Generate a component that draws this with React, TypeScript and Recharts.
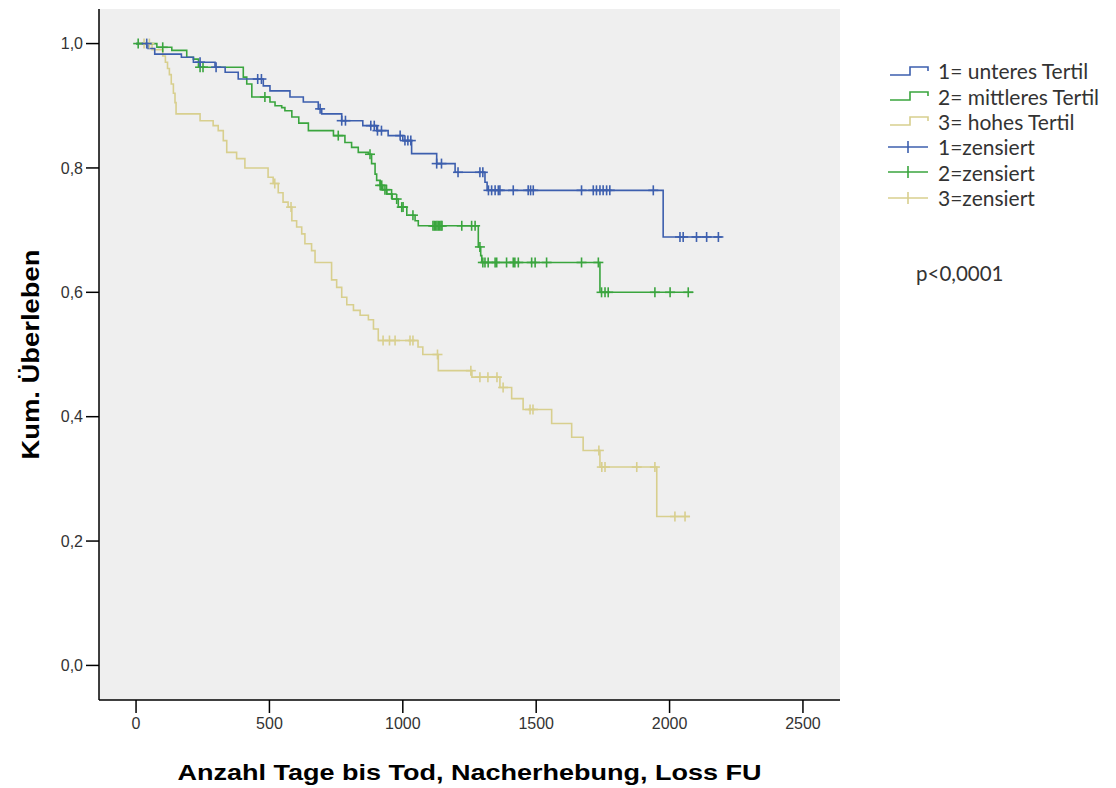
import React from 'react';
import { ComposedChart, Line, Scatter, XAxis, YAxis, CartesianGrid, Label } from 'recharts';

// ---- axes ----
const xTicks = [0, 500, 1000, 1500, 2000, 2500];
const yTicks = [0, 0.2, 0.4, 0.6, 0.8, 1.0];

// ---- 1 = unteres Tertil ----
const days1 = [0, 45, 70, 170, 215, 296, 334, 383, 477, 502, 577, 627, 683, 696, 771, 850, 902, 945, 1000, 1033, 1127, 1196, 1308, 1316, 1976, 2196];
const surv1 = [1.0, 0.992, 0.983, 0.978, 0.970, 0.962, 0.954, 0.943, 0.932, 0.924, 0.914, 0.906, 0.895, 0.887, 0.876, 0.868, 0.860, 0.852, 0.844, 0.823, 0.807, 0.793, 0.777, 0.764, 0.689, 0.689];
const censor1 = [40, 240, 300, 456, 470, 690, 771, 785, 880, 893, 905, 920, 990, 1008, 1019, 1030, 1127, 1145, 1207, 1289, 1300, 1321, 1333, 1346, 1358, 1364, 1414, 1470, 1479, 1489, 1670, 1714, 1726, 1739, 1751, 1764, 1776, 1939, 2039, 2051, 2101, 2139, 2183];

// ---- 2 = mittleres Tertil ----
const days2 = [0, 78, 134, 190, 215, 234, 402, 415, 434, 502, 521, 546, 558, 584, 610, 646, 740, 783, 808, 833, 871, 883, 896, 902, 915, 925, 940, 960, 983, 1015, 1046, 1058, 1283, 1292, 1296, 1739, 2089];
const surv2 = [1.0, 0.994, 0.989, 0.978, 0.975, 0.962, 0.946, 0.935, 0.914, 0.906, 0.900, 0.897, 0.892, 0.882, 0.872, 0.860, 0.852, 0.841, 0.833, 0.825, 0.822, 0.807, 0.790, 0.780, 0.772, 0.765, 0.758, 0.750, 0.737, 0.724, 0.715, 0.707, 0.673, 0.659, 0.648, 0.600, 0.600];
const censor2 = [8, 100, 240, 251, 483, 758, 877, 915, 921, 933, 939, 958, 977, 996, 1001, 1038, 1113, 1118, 1123, 1128, 1133, 1138, 1143, 1147, 1221, 1258, 1271, 1289, 1300, 1308, 1320, 1346, 1352, 1389, 1414, 1420, 1433, 1483, 1496, 1539, 1670, 1733, 1745, 1758, 1770, 1945, 2002, 2070];

// ---- 3 = hohes Tertil ----
const days3 = [0, 60, 100, 110, 118, 125, 132, 140, 146, 150, 240, 289, 308, 327, 340, 377, 408, 495, 514, 533, 551, 570, 584, 602, 621, 633, 658, 671, 733, 752, 771, 790, 815, 840, 871, 890, 908, 1057, 1075, 1133, 1259, 1364, 1408, 1451, 1558, 1633, 1676, 1739, 1952, 2076];
const surv3 = [1.0, 0.99, 0.98, 0.97, 0.96, 0.95, 0.935, 0.92, 0.905, 0.887, 0.876, 0.868, 0.86, 0.844, 0.825, 0.815, 0.80, 0.785, 0.775, 0.76, 0.745, 0.737, 0.715, 0.705, 0.694, 0.678, 0.667, 0.648, 0.62, 0.608, 0.592, 0.58, 0.571, 0.563, 0.556, 0.541, 0.5225, 0.512, 0.50, 0.474, 0.4636, 0.447, 0.429, 0.4116, 0.389, 0.367, 0.3457, 0.319, 0.2395, 0.2395];
const censor3 = [30, 50, 520, 581, 926, 950, 971, 1027, 1038, 1130, 1255, 1289, 1319, 1353, 1376, 1477, 1488, 1735, 1746, 1758, 1877, 1945, 2020, 2058];

const legendLabels = ['1= unteres Tertil', '2= mittleres Tertil', '3= hohes Tertil', '1=zensiert', '2=zensiert', '3=zensiert'];
const pValueText = 'p<0,0001';

const C1 = '#3d5fae';
const C2 = '#3aa53e';
const C3 = '#d8cf8e';

const curve = (days: number[], surv: number[]) => days.map((d, i) => ({ x: d, y: surv[i] }));
const survAt = (days: number[], surv: number[], t: number) => {
  let s = surv[0];
  for (let i = 0; i < days.length; i++) if (days[i] <= t) s = surv[i];
  return s;
};
const marks = (days: number[], surv: number[], cens: number[]) => cens.map((t) => ({ x: t, y: survAt(days, surv, t) }));

const line1 = curve(days1, surv1);
const line2 = curve(days2, surv2);
const line3 = curve(days3, surv3);
const cens1 = marks(days1, surv1, censor1);
const cens2 = marks(days2, surv2, censor2);
const cens3 = marks(days3, surv3, censor3);

const makeCross = (color: string) => (props: any) => {
  const { cx, cy } = props;
  if (cx == null || cy == null) return <g />;
  return (
    <g>
      <line x1={cx - 5} x2={cx + 5} y1={cy} y2={cy} stroke={color} strokeWidth={1.6} />
      <line x1={cx} x2={cx} y1={cy - 5} y2={cy + 5} stroke={color} strokeWidth={1.6} />
    </g>
  );
};

const xDomain = [-138.9, 2638.9];
const yDomain = [-0.0556, 1.0556];

const tickStyle = { fontFamily: 'Liberation Sans, Arial, sans-serif', fontSize: 16, fill: '#333' };

const LegendBox = () => {
  const colors = [C1, C2, C3, C1, C2, C3];
  return (
    <div style={{ position: 'absolute', left: 872, top: 50, fontFamily: 'Lato, sans-serif', fontSize: 21, color: '#333' }}>
      {legendLabels.map((lab, i) => (
        <div key={i} style={{ display: 'flex', alignItems: 'center', height: 25.4 }}>
          <svg width={50} height={20} style={{ flex: 'none' }}>
            {i < 3 ? (
              <polyline points="10,14 30,14 30,6 48,6 48,10" fill="none" stroke={colors[i]} strokeWidth={1.6} />
            ) : (
              <g>
                <line x1={8} x2={48} y1={10} y2={10} stroke={colors[i]} strokeWidth={1.6} />
                <line x1={28} x2={28} y1={4} y2={16} stroke={colors[i]} strokeWidth={1.6} />
              </g>
            )}
          </svg>
          <span style={{ marginLeft: 8, whiteSpace: 'nowrap' }}>{lab}</span>
        </div>
      ))}
    </div>
  );
};

export default function App() {
  return (
    <div style={{ position: 'relative', width: 1100, height: 780 }}>
      <ComposedChart width={1100} height={780} margin={{ top: 1, right: 268, bottom: 0, left: 0 }}>
        <CartesianGrid fill="#efefef" horizontal={false} vertical={false} />
        <XAxis
          dataKey="x"
          type="number"
          domain={xDomain}
          ticks={xTicks}
          allowDataOverflow
          height={88}
          tickSize={13}
          tickMargin={5}
          tick={tickStyle}
          tickLine={{ stroke: '#000', strokeWidth: 1.5 }}
          axisLine={{ stroke: '#000', strokeWidth: 1.5 }}
        >
          <Label
            content={(p: any) => {
              const vb = p.viewBox;
              return (
                <text x={vb.x + vb.width / 2} y={vb.y + 80} textAnchor="middle" fontFamily="Liberation Sans, Arial, sans-serif" fontWeight="bold" fontSize={22} fill="#000" textLength={584} lengthAdjust="spacingAndGlyphs">
                  Anzahl Tage bis Tod, Nacherhebung, Loss FU
                </text>
              );
            }}
          />
        </XAxis>
        <XAxis xAxisId="top" orientation="top" type="number" domain={xDomain} height={0} tick={false} tickLine={false} axisLine={{ stroke: '#000', strokeWidth: 1.5 }} />
        <YAxis
          type="number"
          domain={yDomain}
          ticks={yTicks}
          allowDataOverflow
          width={91}
          tickSize={13}
          tickMargin={3}
          tick={tickStyle}
          tickFormatter={(v: number) => v.toFixed(1).replace('.', ',')}
          tickLine={{ stroke: '#000', strokeWidth: 1.5 }}
          axisLine={{ stroke: '#000', strokeWidth: 1.5 }}
        >
          <Label
            content={(p: any) => {
              const vb = p.viewBox;
              const cx = 31;
              const cy = vb.y + vb.height / 2;
              return (
                <text x={cx} y={cy} transform={`rotate(-90 ${cx} ${cy})`} textAnchor="middle" fontFamily="Liberation Sans, Arial, sans-serif" fontWeight="bold" fontSize={23} fill="#000" textLength={210} lengthAdjust="spacingAndGlyphs">
                  Kum. Überleben
                </text>
              );
            }}
          />
        </YAxis>
        <YAxis yAxisId="right" orientation="right" type="number" domain={yDomain} width={0} tick={false} tickLine={false} axisLine={{ stroke: '#000', strokeWidth: 1.5 }} />
        <Line data={line3} dataKey="y" type="stepAfter" stroke={C3} strokeWidth={1.6} dot={false} isAnimationActive={false} />
        <Line data={line2} dataKey="y" type="stepAfter" stroke={C2} strokeWidth={1.6} dot={false} isAnimationActive={false} />
        <Line data={line1} dataKey="y" type="stepAfter" stroke={C1} strokeWidth={1.6} dot={false} isAnimationActive={false} />
        <Scatter data={cens3} dataKey="y" shape={makeCross(C3)} isAnimationActive={false} />
        <Scatter data={cens2} dataKey="y" shape={makeCross(C2)} isAnimationActive={false} />
        <Scatter data={cens1} dataKey="y" shape={makeCross(C1)} isAnimationActive={false} />
      </ComposedChart>
      <LegendBox />
      <div style={{ position: 'absolute', left: 908, top: 253, fontFamily: 'Lato, sans-serif', fontSize: 20.5, color: '#333', whiteSpace: 'nowrap' }}>{pValueText}</div>
    </div>
  );
}
